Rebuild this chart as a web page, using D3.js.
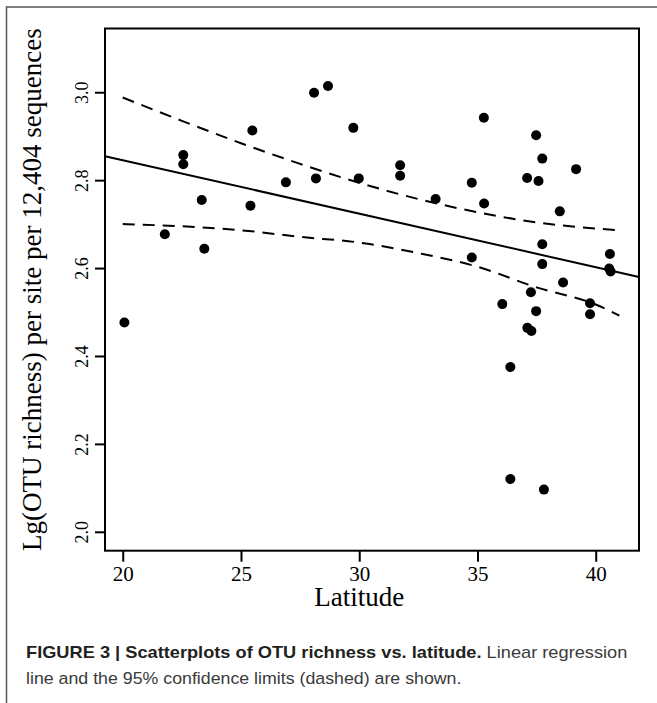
<!DOCTYPE html>
<html>
<head>
<meta charset="utf-8">
<script src="https://cdn.jsdelivr.net/npm/d3@7"></script>
<style>
    body { margin: 0; background: #fff; }
    svg { display: block; }
</style>
</head>
<body>
<svg id="chart" width="657" height="703"></svg>
<script>
'use strict';
(function() {

    // data
    var latitude = [20.07, 21.78, 22.56, 22.56, 23.34, 23.45, 25.40, 25.48, 26.90, 28.09,
        28.17, 28.68, 29.75, 29.98, 31.73, 31.73, 33.23, 34.76, 34.76, 35.27,
        35.28, 36.05, 36.39, 36.39, 37.10, 37.11, 37.26, 37.28, 37.48, 37.48,
        37.58, 37.74, 37.74, 37.74, 37.81, 38.48, 38.62, 39.17, 39.76, 39.76,
        40.60, 40.57, 40.63];
    var richness = [2.476, 2.677, 2.857, 2.836, 2.755, 2.644, 2.742, 2.913, 2.795, 2.999,
        2.804, 3.014, 2.919, 2.804, 2.834, 2.810, 2.757, 2.794, 2.624, 2.942,
        2.747, 2.518, 2.375, 2.120, 2.805, 2.464, 2.545, 2.457, 2.902, 2.502,
        2.798, 2.849, 2.654, 2.609, 2.096, 2.729, 2.567, 2.825, 2.520, 2.495,
        2.632, 2.599, 2.592];

    // regression line (intercept, slope)
    var fitIntercept = 3.0888,
        fitSlope = -0.01217;

    // 95% confidence limits
    var ciLat = [20, 22.5, 25, 27.5, 30, 32.5, 35, 37.5, 40, 41];
    var ciUpper = [2.988, 2.935, 2.884, 2.837, 2.794, 2.757, 2.727, 2.704, 2.690, 2.686];
    var ciLower = [2.700, 2.695, 2.686, 2.671, 2.658, 2.634, 2.603, 2.556, 2.517, 2.492];

    var xTicks = [20, 25, 30, 35, 40];
    var yTicks = [2.0, 2.2, 2.4, 2.6, 2.8, 3.0];

    var xLabel = 'Latitude';
    var yLabel = 'Lg(OTU richness) per site per 12,404 sequences';
    var captionBold = 'FIGURE 3 | Scatterplots of OTU richness vs. latitude.';
    var captionRest1 = ' Linear regression';
    var captionLine2 = 'line and the 95% confidence limits (dashed) are shown.';

    var serif = '"Liberation Serif", "Times New Roman", serif';
    var sans = '"Liberation Sans", Arial, sans-serif';

    var box = {left: 105, top: 28.5, right: 639, bottom: 550.7};

    var svg = d3.select('#chart');

    // outer figure frame
    svg.append('path')
        .attr('d', 'M6.5,703 V7 H657')
        .attr('fill', 'none')
        .attr('stroke', '#555')
        .attr('stroke-width', 1.5);

    var x = d3.scaleLinear().domain([19.25, 41.83]).range([box.left, box.right]);
    var y = d3.scaleLinear().domain([1.957, 3.145]).range([box.bottom, box.top]);

    // axes
    var xAxis = svg.append('g')
        .attr('transform', 'translate(0,' + box.bottom + ')')
        .call(d3.axisBottom(x).tickValues(xTicks).tickSize(11).tickSizeOuter(0));
    xAxis.select('.domain').remove();
    xAxis.selectAll('line').attr('stroke', '#000').attr('stroke-width', 2);
    xAxis.selectAll('text')
        .attr('y', 30)
        .attr('dy', 0)
        .attr('fill', '#000')
        .style('font-family', serif)
        .style('font-size', '21px');

    var yAxis = svg.append('g')
        .attr('transform', 'translate(' + box.left + ',0)')
        .call(d3.axisLeft(y).tickValues(yTicks).tickSize(10).tickSizeOuter(0)
            .tickFormat(d3.format('.1f')));
    yAxis.select('.domain').remove();
    yAxis.selectAll('line').attr('stroke', '#000').attr('stroke-width', 2);
    yAxis.selectAll('text')
        .attr('x', 0)
        .attr('y', -16.7)
        .attr('dy', 0)
        .attr('transform', 'rotate(-90)')
        .attr('text-anchor', 'middle')
        .attr('fill', '#000')
        .style('font-family', serif)
        .style('font-size', '18px');

    // plot box
    svg.append('rect')
        .attr('x', box.left)
        .attr('y', box.top)
        .attr('width', box.right - box.left)
        .attr('height', box.bottom - box.top)
        .attr('fill', 'none')
        .attr('stroke', '#000')
        .attr('stroke-width', 2);

    // axis titles
    svg.append('text')
        .attr('x', x(30))
        .attr('y', 605.7)
        .attr('text-anchor', 'middle')
        .style('font-family', serif)
        .style('font-size', '27px')
        .text(xLabel);

    svg.append('text')
        .attr('transform', 'translate(41,' + ((box.top + box.bottom) / 2) + ') rotate(-90)')
        .attr('text-anchor', 'middle')
        .style('font-family', serif)
        .style('font-size', '27px')
        .text(yLabel);

    var plot = svg.append('g');

    // regression line across the whole plot
    var dom = x.domain();
    plot.append('line')
        .attr('x1', x(dom[0]))
        .attr('y1', y(fitIntercept + fitSlope * dom[0]))
        .attr('x2', x(dom[1]))
        .attr('y2', y(fitIntercept + fitSlope * dom[1]))
        .attr('stroke', '#000')
        .attr('stroke-width', 2);

    var ciLine = d3.line()
        .x(function(d) { return x(d[0]); })
        .y(function(d) { return y(d[1]); })
        .curve(d3.curveMonotoneX);

    [ciUpper, ciLower].forEach(function(vals) {
        plot.append('path')
            .datum(d3.zip(ciLat, vals))
            .attr('d', ciLine)
            .attr('fill', 'none')
            .attr('stroke', '#000')
            .attr('stroke-width', 2)
            .attr('stroke-dasharray', '12,8');
    });

    plot.selectAll('circle')
        .data(d3.zip(latitude, richness))
        .enter().append('circle')
        .attr('cx', function(d) { return x(d[0]); })
        .attr('cy', function(d) { return y(d[1]); })
        .attr('r', 5)
        .attr('fill', '#000');

    // caption, squeezed to the width of the printed one
    function captionLine(parts, baseline, width) {
        var g = svg.append('g');
        var t = g.append('text')
            .style('font-family', sans)
            .style('font-size', '17px');
        parts.forEach(function(p) {
            t.append('tspan')
                .attr('font-weight', p.bold ? 'bold' : 'normal')
                .attr('fill', p.bold ? '#231f20' : '#3a3a3a')
                .text(p.text);
        });
        var w = t.node().getComputedTextLength();
        g.attr('transform', 'translate(26,' + baseline + ') scale(' + (width / w) + ',1)');
    }

    captionLine([{text: captionBold, bold: true}, {text: captionRest1, bold: false}], 658, 602);
    captionLine([{text: captionLine2, bold: false}], 684, 436);

})();
</script>
</body>
</html>
